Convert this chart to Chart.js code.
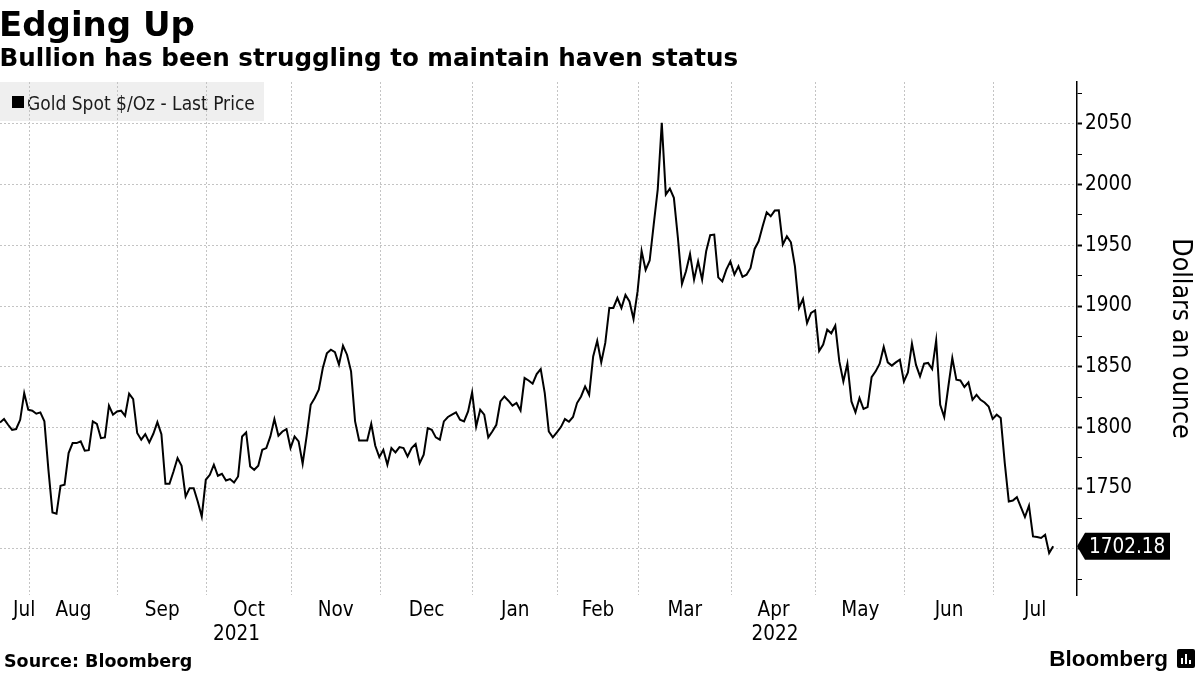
<!DOCTYPE html>
<html>
<head>
<meta charset="utf-8">
<script src="https://cdn.jsdelivr.net/npm/chart.js@4.4.1/dist/chart.umd.min.js"></script>
<style>
  html, body { margin: 0; padding: 0; background: #fff; }
  #wrap { position: relative; width: 1200px; height: 675px; overflow: hidden; }
  #chart { position: absolute; left: 0; top: 0; }
  .txt { position: absolute; white-space: nowrap; color: #000; }
  #title { left: -1px; top: 7.3px; font: bold 34px/34px 'DejaVu Sans', sans-serif; }
  #subtitle { left: -0.5px; top: 45.9px; font: bold 24.6px/24.6px 'DejaVu Sans', sans-serif; }
  #source { left: 4px; top: 652.5px; font: bold 17.5px/17.5px 'DejaVu Sans', sans-serif; }
  #logo { right: 32px; top: 648px; font: bold 22.5px/22.5px 'Liberation Sans', Arial, sans-serif; }
  #logoIcon { position: absolute; left: 1177px; top: 649px; width: 18px; height: 19px; background: #000; border-radius: 2px; }
  #logoIcon i { position: absolute; bottom: 4px; width: 2px; background: #fff; }
</style>
</head>
<body>
<div id="wrap">
  <canvas id="chart" width="1200" height="675"></canvas>
  <div class="txt" id="title">Edging Up</div>
  <div class="txt" id="subtitle">Bullion has been struggling to maintain haven status</div>
  <div class="txt" id="source">Source: Bloomberg</div>
  <div class="txt" id="logo">Bloomberg</div>
  <div id="logoIcon"><i style="left:4px;height:6px"></i><i style="left:8px;height:10px"></i><i style="left:12px;height:4px"></i></div>
</div>
<script>
// Gold spot, one value per weekday, grouped by month
const jul21 = [1804.1, 1806.9, 1802.2, 1798.0, 1798.7, 1806.3, 1828.3, 1814.6];
const aug21 = [1813.8, 1811.3, 1812.4, 1805.0, 1765.0, 1730.0, 1728.9, 1752.0, 1752.8, 1778.9, 1787.1,
               1787.1, 1788.5, 1780.8, 1781.3, 1805.0, 1803.0, 1791.2, 1791.8, 1817.9, 1810.5, 1813.2];
const sep21 = [1813.8, 1809.6, 1827.8, 1823.4, 1795.4, 1789.9, 1794.5, 1787.6, 1794.8, 1804.4, 1794.5,
               1753.6, 1753.6, 1763.7, 1774.8, 1768.4, 1743.1, 1750.0, 1750.0, 1739.0, 1726.6, 1756.9];
const oct21 = [1761.0, 1769.3, 1760.2, 1761.8, 1756.3, 1757.5, 1754.7, 1759.6, 1792.6, 1795.9, 1767.9,
               1765.1, 1768.4, 1781.6, 1783.0, 1792.6, 1806.9, 1793.2, 1796.7, 1798.7, 1783.0];
const nov21 = [1792.6, 1788.5, 1770.1, 1793.0, 1818.7, 1824.2, 1831.0, 1849.0, 1861.0, 1864.0, 1862.0,
               1851.7, 1867.3, 1859.9, 1846.2, 1805.0, 1789.3, 1789.3, 1789.3, 1803.0, 1784.9, 1775.6];
const dec21 = [1781.6, 1769.3, 1783.0, 1779.4, 1783.8, 1783.0, 1776.1, 1783.0, 1786.3, 1770.6, 1777.5,
               1799.5, 1798.1, 1791.8, 1789.9, 1805.0, 1808.6, 1810.5, 1812.4, 1806.3, 1805.0, 1813.2, 1828.9];
const jan22 = [1800.8, 1814.6, 1810.5, 1791.8, 1796.7, 1802.2, 1821.4, 1825.5, 1822.0, 1817.9, 1820.1,
               1814.0, 1840.7, 1838.7, 1836.0, 1844.0, 1848.1, 1828.3, 1796.7, 1791.8, 1795.9];
const feb22 = [1800.3, 1806.9, 1804.7, 1808.6, 1820.1, 1825.5, 1833.8, 1826.9, 1858.5, 1871.4,
               1853.6, 1869.6, 1898.4, 1898.4, 1906.6, 1898.4, 1909.1, 1903.8, 1889.3, 1912.0];
const mar22 = [1945.3, 1929.7, 1937.5, 1967.1, 1996.0, 2050.9, 1991.8, 1996.7, 1989.1, 1956.0, 1918.2,
               1928.6, 1942.9, 1921.7, 1936.8, 1921.7, 1945.1, 1958.3, 1958.8, 1923.6, 1920.3, 1930.0, 1936.8];
const apr22 = [1926.0, 1932.7, 1924.0, 1925.8, 1931.4, 1947.0, 1953.3, 1965.7, 1977.2, 1973.9, 1978.6,
               1978.8, 1950.6, 1957.4, 1952.5, 1932.7, 1898.4, 1905.8, 1886.0, 1894.3, 1896.4];
const may22 = [1863.0, 1868.2, 1880.5, 1877.5, 1883.8, 1854.4, 1837.9, 1852.5, 1821.4, 1812.4, 1824.2,
               1815.2, 1816.8, 1841.5, 1846.2, 1852.5, 1866.3, 1853.6, 1850.9, 1853.6, 1855.8, 1837.9];
const jun22 = [1845.3, 1869.0, 1851.5, 1842.0, 1852.5, 1853.1, 1848.1, 1871.7, 1818.7, 1808.6, 1833.3,
               1857.2, 1839.3, 1838.7, 1833.3, 1837.1, 1822.8, 1826.9, 1822.8, 1820.6, 1817.3, 1807.0];
const jul22 = [1810.5, 1807.7, 1770.6, 1739.0, 1739.8, 1742.6, 1734.4, 1726.2, 1735.5, 1710.2, 1709.7,
               1709.0, 1711.6, 1696.5, 1702.18];

const monthSeries = [jul21, aug21, sep21, oct21, nov21, dec21, jan22, feb22, mar22, apr22, may22, jun22, jul22];
const monthNames = ['Jul', 'Aug', 'Sep', 'Oct', 'Nov', 'Dec', 'Jan', 'Feb', 'Mar', 'Apr', 'May', 'Jun', 'Jul'];
const yearNames = ['2021', '2022'];
const yearFirstMonth = [0, 6];

const FONT = "'DejaVu Sans Condensed', 'Liberation Sans', sans-serif";
const xMax = 266.9;

const prices = monthSeries.flat();
const monthStart = [];
let count = 0;
monthSeries.forEach(m => { monthStart.push(count); count += m.length; });

// gridlines sit just before the first trading day of each month
const boundaries = monthStart.slice(1).map(i => i - 0.8);
const edges = [0].concat(boundaries, [xMax]);
const monthCenters = monthNames.map((_, k) => (edges[k] + edges[k + 1]) / 2);
monthCenters[0] = Math.max(monthCenters[0], 6); // keep the short first month label off the edge
const yearCenters = yearNames.map((_, k) => {
    const a = edges[yearFirstMonth[k]];
    const b = k + 1 < yearFirstMonth.length ? edges[yearFirstMonth[k + 1]] : xMax;
    return (a + b) / 2;
});

const legendBox = {
    id: 'legendBox',
    beforeDraw(chart) {
        const ctx = chart.ctx;
        const top = chart.chartArea.top;
        ctx.save();
        ctx.fillStyle = '#efefef';
        ctx.fillRect(0, top, 264, 39);
        ctx.fillStyle = '#000';
        ctx.fillRect(12, top + 14, 12, 12);
        ctx.fillStyle = '#1a1a1a';
        ctx.font = '19px ' + FONT;
        ctx.textBaseline = 'alphabetic';
        ctx.fillText('Gold Spot $/Oz - Last Price', 27, top + 28);
        ctx.restore();
    }
};

const lastPriceTag = {
    id: 'lastPriceTag',
    afterDraw(chart) {
        const ctx = chart.ctx;
        const last = prices[prices.length - 1];
        const y = chart.scales.y.getPixelForValue(last);
        const x0 = chart.chartArea.right;
        ctx.save();
        ctx.fillStyle = '#000';
        ctx.beginPath();
        ctx.moveTo(x0, y);
        ctx.lineTo(x0 + 8, y - 13.5);
        ctx.lineTo(x0 + 93, y - 13.5);
        ctx.lineTo(x0 + 93, y + 13.5);
        ctx.lineTo(x0 + 8, y + 13.5);
        ctx.closePath();
        ctx.fill();
        ctx.fillStyle = '#fff';
        ctx.font = '20.5px ' + FONT;
        ctx.textAlign = 'left';
        ctx.textBaseline = 'middle';
        ctx.fillText(last.toFixed(2), x0 + 12, y + 1);
        ctx.restore();
    }
};

const labelFont = { family: FONT, size: 20.5 };

new Chart(document.getElementById('chart').getContext('2d'), {
    type: 'line',
    data: {
        datasets: [{
            data: prices.map((v, i) => ({ x: i, y: v })),
            borderColor: '#000',
            borderWidth: 2,
            pointRadius: 0,
            tension: 0,
            fill: false
        }]
    },
    options: {
        responsive: false,
        animation: false,
        events: [],
        layout: { padding: { top: 82, left: 0, right: 0, bottom: 0 } },
        plugins: {
            legend: { display: false },
            tooltip: { enabled: false }
        },
        scales: {
            x: {
                type: 'linear', position: 'bottom', weight: 0, min: 0, max: xMax,
                afterBuildTicks: s => { s.ticks = boundaries.map(v => ({ value: v })); },
                afterFit: s => { s.height = 0; },
                ticks: { display: false },
                grid: { color: '#c4c4c4', lineWidth: 1, drawTicks: false },
                border: { display: false, dash: [2, 2] }
            },
            xMonth: {
                type: 'linear', position: 'bottom', weight: 1, min: 0, max: xMax,
                afterBuildTicks: s => { s.ticks = monthCenters.map(v => ({ value: v })); },
                afterFit: s => { s.height = 28; },
                grid: { display: false, drawTicks: false },
                border: { display: false },
                ticks: {
                    autoSkip: false, maxRotation: 0, padding: 3, color: '#000', font: labelFont,
                    callback: (v, i) => monthNames[i]
                }
            },
            xYear: {
                type: 'linear', position: 'bottom', weight: 2, min: 0, max: xMax,
                afterBuildTicks: s => { s.ticks = yearCenters.map(v => ({ value: v })); },
                afterFit: s => { s.height = 52; },
                grid: { display: false, drawTicks: false },
                border: { display: false },
                ticks: {
                    autoSkip: false, maxRotation: 0, padding: -1, color: '#000', font: labelFont,
                    callback: (v, i) => yearNames[i]
                }
            },
            y: {
                type: 'linear', position: 'right', min: 1662, max: 2084.5,
                afterFit: s => { s.width = 123; },
                ticks: {
                    stepSize: 25, includeBounds: false, autoSkip: false, padding: 3,
                    color: '#000', font: labelFont,
                    callback: v => (v % 50 === 0 && v !== 1700) ? String(v) : ''
                },
                grid: {
                    color: c => (c.tick && c.tick.value % 50 === 0) ? '#c4c4c4' : 'rgba(0,0,0,0)',
                    lineWidth: 1,
                    tickColor: '#000',
                    tickLength: 5,
                    tickWidth: c => (c.tick && c.tick.value % 50 === 0) ? 2 : 1
                },
                border: { display: true, color: '#000', width: 1.5, dash: [2, 2] },
                title: {
                    display: true, text: 'Dollars an ounce', color: '#000',
                    font: { family: FONT, size: 26.5 }, padding: { top: 4, bottom: 4 }
                }
            }
        }
    },
    plugins: [legendBox, lastPriceTag]
});
</script>
</body>
</html>
